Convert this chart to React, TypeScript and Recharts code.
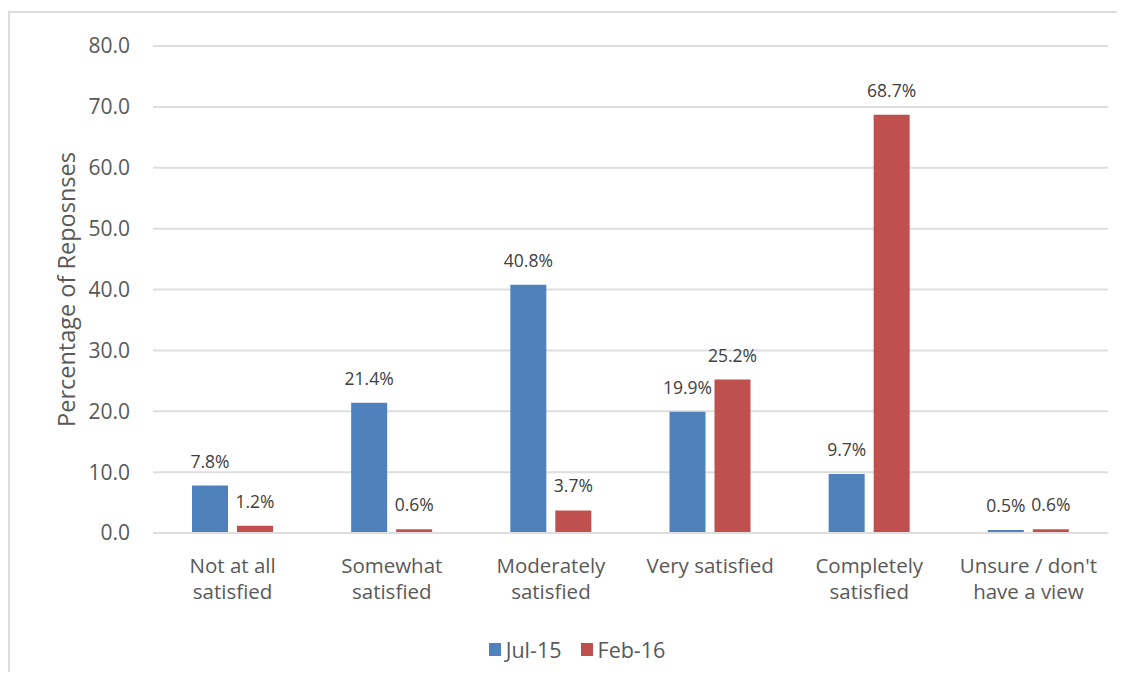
import React from 'react';
import { BarChart, Bar, XAxis, YAxis, CartesianGrid, Legend, LabelList } from 'recharts';

const categories = [
  "Not at all\nsatisfied",
  "Somewhat\nsatisfied",
  "Moderately\nsatisfied",
  "Very satisfied",
  "Completely\nsatisfied",
  "Unsure / don't\nhave a view",
];
const jul15 = [7.8, 21.4, 40.8, 19.9, 9.7, 0.5];
const feb16 = [1.2, 0.6, 3.7, 25.2, 68.7, 0.6];
const yTicks = [0, 10, 20, 30, 40, 50, 60, 70, 80];
const seriesNames = ["Jul-15", "Feb-16"];
const yLabel = "Percentage of Reposnses";

const data = categories.map((c, i) => ({ cat: c, a: jul15[i], b: feb16[i] }));

const FONT = '"Open Sans", sans-serif';
const BLUE = '#4F81BD';
const RED = '#C0504D';
const TEXT = '#595959';

const CatTick = (props: any) => {
  const { x, y, payload } = props;
  const lines = String(payload.value).split('\n');
  return (
    <g>
      {lines.map((l, i) => (
        <text key={i} x={x} y={y + 32 + i * 26} textAnchor="middle" fill={TEXT} fontSize={20.5} fontFamily={FONT}>{l}</text>
      ))}
    </g>
  );
};

const YLabel = (props: any) => {
  const vb = props.viewBox || {};
  const cx = 58;
  const cy = vb.y + vb.height / 2;
  return (
    <text x={cx} y={cy} transform={`rotate(-90 ${cx} ${cy})`} textAnchor="middle" dominantBaseline="central" fill={TEXT} fontSize={23.5} fontFamily={FONT}>
      {yLabel}
    </text>
  );
};

const LegendContent = () => (
  <div style={{ display: 'flex', justifyContent: 'center', alignItems: 'center', height: 24, paddingLeft: 38, boxSizing: 'border-box', fontFamily: FONT, fontSize: 21.5, color: TEXT }}>
    {[BLUE, RED].map((c, i) => (
      <div key={i} style={{ display: 'flex', alignItems: 'center', marginLeft: i ? 19 : 0 }}>
        <div style={{ width: 12, height: 13, background: c, marginRight: 5 }} />
        <span>{seriesNames[i]}</span>
      </div>
    ))}
  </div>
);

export default function App() {
  return (
    <div style={{ position: 'relative', top: 3, width: 1117, height: 664 }}>
      <div style={{ position: 'absolute', left: 0, top: 0, width: 1117, height: 664, borderTop: '2px solid #dcdcdc', borderLeft: '2px solid #dcdcdc', boxSizing: 'border-box' }} />
      <div style={{ position: 'absolute', left: 0, top: 0 }}>
        <BarChart width={1117} height={664} data={data} margin={{ top: 35, right: 17, left: 0, bottom: 14 }} barSize={36} barGap={9}>
          <CartesianGrid vertical={false} stroke="#dedede" strokeWidth={2} />
          <XAxis dataKey="cat" tick={<CatTick />} tickLine={false} axisLine={{ stroke: '#dedede', strokeWidth: 2 }} height={104} interval={0} />
          <YAxis width={145} domain={[0, 80]} ticks={yTicks} tickFormatter={(v: number) => v.toFixed(1)} tickLine={false} axisLine={false} tickSize={0} tickMargin={23} tick={{ fill: TEXT, fontSize: 21, fontFamily: FONT }} label={{ content: <YLabel /> }} />
          <Legend verticalAlign="bottom" content={<LegendContent />} />
          <Bar dataKey="a" name={seriesNames[0]} fill={BLUE} isAnimationActive={false}>
            <LabelList dataKey="a" position="top" offset={18} formatter={(v: number) => `${v.toFixed(1)}%`} style={{ fill: '#404040', fontSize: 17.5, fontFamily: FONT }} />
          </Bar>
          <Bar dataKey="b" name={seriesNames[1]} fill={RED} isAnimationActive={false}>
            <LabelList dataKey="b" position="top" offset={18} formatter={(v: number) => `${v.toFixed(1)}%`} style={{ fill: '#404040', fontSize: 17.5, fontFamily: FONT }} />
          </Bar>
        </BarChart>
      </div>
    </div>
  );
}
